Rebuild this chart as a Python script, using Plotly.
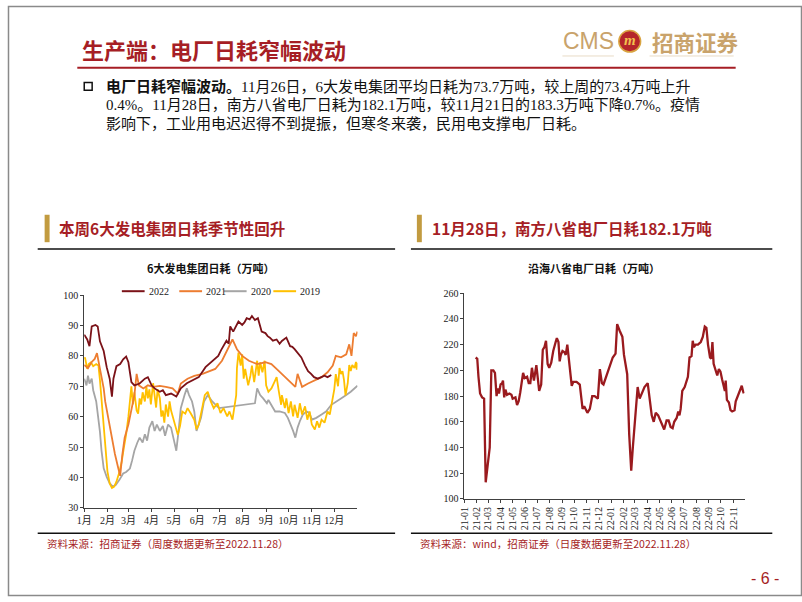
import plotly.graph_objects as go
import pandas as pd

W, H = 802, 602


def px(x):
    return x / W


def py(y):
    return 1 - y / H


# ---------------- Left chart: 6大发电集团日耗 (day of year) ----------------
month_ticks = [0, 31, 59, 90, 120, 151, 181, 212, 243, 273, 304, 334]
month_labels = ["1月", "2月", "3月", "4月", "5月", "6月", "7月", "8月", "9月", "10月", "11月", "12月"]

days22 = [0, 4, 7, 10, 15, 18, 21, 26, 30, 34,
          37, 39, 43, 48, 52, 56, 59, 63, 67, 74,
          81, 85, 90, 94, 101, 105, 109, 116, 123, 129,
          137, 145, 153, 162, 170, 179, 183, 186, 190, 193,
          195, 199, 203, 206, 211, 214, 217, 221, 224, 228,
          232, 235, 237, 242, 245, 248, 252, 257, 261, 264,
          267, 270, 275, 278, 281, 285, 290, 295, 299, 303,
          307, 312, 316, 321, 325, 330]
vals22 = [87, 85.4, 83.2, 89.7, 90.2, 89.7, 84.8, 81.6, 76.3, 72.5,
          66.6, 72.5, 76.6, 77.3, 78.9, 79.8, 77.9, 71.4, 70.3, 70.9,
          72.5, 73, 70.3, 69.3, 68.2, 68.7, 67.1, 67.6, 66.6, 69.3,
          71, 72, 73, 76.3, 78, 80, 82, 83.2, 85, 84,
          89.7, 88, 90, 91.3, 90.2, 91, 92.4, 92, 93.1, 91.8,
          92.4, 90, 88, 87.5, 86.5, 86, 85, 85.4, 84, 84.9,
          85.5, 86, 83.2, 83, 82.2, 81, 79.5, 76.8, 75, 74.1,
          73, 72.5, 73, 73.5, 73, 73.7]

days21 = [0, 5, 10, 14, 17, 21, 26, 28, 32, 37,
          41, 45, 48, 51, 54, 59, 63, 67, 70, 73,
          79, 85, 92, 101, 109, 118, 125, 129, 138, 147,
          158, 169, 175, 184, 193, 198, 204, 211, 220, 231,
          242, 250, 259, 268, 277, 282, 285, 288, 291, 299,
          308, 317, 325, 332, 336, 343, 350, 354, 357, 360,
          363, 365]
vals21 = [77, 76, 78, 79, 80.9, 75.7, 69.3, 65, 59.6, 53.1,
          47.7, 43.5, 40.5, 47.7, 53.1, 57.4, 62.8, 67.1, 74.1, 70.3,
          69.3, 70.3, 69.8, 70.1, 69.8, 69.3, 67.6, 70.9, 72.5, 73.4,
          74.1, 75.2, 75.7, 78.4, 82.7, 85.4, 82.2, 80, 78.4, 77.3,
          77.9, 77.3, 75.2, 73, 70.9, 69.8, 74.1, 71.9, 69.8, 70.9,
          71.9, 73, 74.6, 76.8, 80, 79.5, 80.5, 83.8, 80, 87.5,
          86.5, 88]

days20 = [0, 3, 5, 7, 10, 12, 16, 19, 21, 23,
          26, 30, 34, 38, 42, 47, 52, 56, 61, 64,
          67, 71, 74, 78, 81, 84, 87, 91, 94, 97,
          101, 105, 108, 112, 116, 119, 123, 126, 129, 134,
          137, 140, 144, 147, 150, 156, 160, 165, 171, 180,
          186, 228, 231, 235, 239, 244, 246, 250, 255, 261,
          268, 272, 276, 279, 282, 285, 288, 292, 297, 301,
          304, 310, 317, 323, 330, 336, 343, 350, 356, 365]
vals20 = [72.5, 70.3, 73.5, 70.9, 72.5, 68.7, 65, 60, 55, 49,
          43, 40.2, 38.1, 37, 37.5, 39.2, 41.3, 41.8, 42.9, 45.6,
          48.8, 51.5, 53.1, 51.5, 54.2, 52.1, 56.4, 58.5, 55.3, 57.4,
          55.3, 56.9, 53.7, 57.4, 56.4, 53.1, 48.8, 55.3, 62.8, 67.1,
          69.3, 67.1, 65, 61.7, 55.3, 59.6, 65, 67.1, 65, 62.8,
          63, 64.4, 69.3, 67.1, 66, 64.4, 65.5, 63.9, 61.7, 61.7,
          61.2, 59.6, 57.4, 55.3, 53.1, 56.4, 58.5, 60.7, 61.7, 61.2,
          59, 59.6, 60.7, 61.7, 63.9, 65, 66, 67.1, 68.2, 70.2]

days19 = [0, 1, 4, 6, 9, 12, 16, 19, 21, 23,
          26, 28, 31, 34, 37, 40, 43, 47, 50, 53,
          56, 59, 61, 63, 65, 67, 70, 72, 74, 76,
          78, 81, 83, 85, 87, 89, 92, 94, 96, 98,
          101, 103, 105, 107, 109, 112, 114, 116, 118, 121,
          123, 125, 128, 131, 135, 138, 142, 147, 150, 153,
          158, 161, 165, 169, 173, 178, 182, 186, 191, 194,
          198, 201, 203, 204, 206, 209, 211, 213, 215, 219,
          222, 224, 227, 231, 233, 235, 238, 241, 243, 246,
          250, 254, 257, 260, 263, 264, 268, 270, 273, 276,
          279, 281, 285, 288, 291, 295, 298, 301, 304, 308,
          311, 314, 317, 321, 325, 328, 331, 334, 336, 339,
          341, 343, 345, 347, 349, 352, 354, 356, 358, 361,
          363, 364, 365]
vals19 = [78.9, 79.5, 75.7, 77.3, 77.9, 76.6, 77.3, 76.8, 72, 66,
          58, 50, 42, 38, 36.5, 37, 38.6, 41.8, 45.1, 49.9,
          54.2, 60, 66, 70, 64, 68, 62, 61, 66, 64,
          68, 65, 70, 66, 69, 64, 71, 67, 63, 69,
          66, 60, 62, 58, 64, 60, 65, 62, 60, 57,
          55, 54, 57, 61.7, 61, 62.8, 61.2, 59, 55.8, 57.4,
          63.4, 67.1, 68.2, 65, 62.8, 64.4, 61.2, 62.8, 60.1, 61.7,
          59, 64.4, 67.1, 76, 81.1, 76.8, 80.5, 72.5, 75.7, 70.3,
          73.5, 76.8, 71.4, 78.4, 73.5, 77.9, 74.6, 78.4, 70.3, 68.2,
          69.3, 71.4, 73, 68.2, 63.9, 67.1, 62.8, 66, 61.2, 65,
          60.1, 63.9, 59.6, 64.4, 60.7, 63.4, 59, 61.7, 57.4, 55.8,
          58.5, 56.4, 59, 58, 61.7, 60.7, 65, 69, 74, 70,
          76, 74, 75, 72, 67, 71, 77, 75, 77, 76,
          78, 75.5, 77.8]

# ---------------- Right chart: 沿海八省电厂日耗 (days since 2021-01-01) ----------------
r_start = "2021-01-01"
r_days = [28, 32, 35, 39, 44, 49, 53, 57, 63, 67,
          72, 76, 80, 83, 86, 90, 94, 96, 99, 102,
          106, 112, 117, 120, 127, 131, 135, 139, 143, 146,
          150, 156, 160, 164, 168, 173, 179, 183, 186, 191,
          195, 199, 203, 207, 211, 216, 221, 227, 230, 234,
          237, 240, 244, 249, 252, 256, 258, 263, 267, 271,
          279, 287, 291, 294, 298, 302, 306, 312, 318, 324,
          332, 337, 342, 346, 353, 361, 369, 376, 380, 386,
          393, 397, 401, 405, 410, 415, 419, 425, 431, 436,
          441, 448, 456, 460, 466, 471, 476, 482, 489, 497,
          503, 508, 513, 518, 522, 528, 532, 535, 538, 542,
          548, 553, 556, 560, 565, 568, 571, 575, 581, 588,
          593, 598, 602, 606, 611, 614, 617, 620, 625, 629,
          633, 637, 641, 645, 648, 650, 653, 658, 662, 666,
          672, 675, 680, 685, 689, 690, 693, 695]
r_vals = [210, 209, 195, 182, 179, 178, 113, 125, 140, 200,
          200, 198, 180, 186, 182, 189, 190, 192, 179, 185,
          181, 182, 181, 178, 179, 173, 176, 183, 190, 198,
          194, 195, 190, 190, 202, 192, 204, 190, 184, 189,
          216, 218, 223, 205, 202, 206, 215, 222, 225, 222,
          207, 212, 215, 214, 212, 220, 214, 198, 188, 191,
          191, 189, 180, 170, 172, 170, 167, 170, 180, 180,
          178, 201, 190, 189, 195, 203, 210, 213, 236, 231,
          226, 212, 205, 197, 150, 122, 140, 167, 187, 178,
          182, 187, 190, 180, 165, 160, 167, 165, 160, 154,
          161, 161, 156, 155, 160, 163, 168, 165, 170, 184,
          187, 192, 195, 210, 211, 223, 218, 220, 220, 222,
          226, 234, 233, 220, 210, 209, 222, 205, 200, 196,
          201, 199, 193, 186, 184, 192, 177, 175, 169, 168,
          169, 176, 180, 183, 186, 188, 184, 182.1]
r_dates = pd.Timestamp(r_start) + pd.to_timedelta(r_days, unit="D")

# ---------------- styles ----------------
RED = "#A61E25"
GOLD = "#C29B40"
TAN = "#C9A36B"
SERIF = "'Liberation Serif', 'Noto Sans CJK SC', serif"
CJK = "'Noto Sans CJK SC', sans-serif"
AXC = "#404040"

series_names = ["2022", "2021", "2020", "2019"]
series_colors = {"2022": "#7B1218", "2021": "#ED7D31", "2020": "#A5A5A5", "2019": "#FFC000"}
series_data = {"2022": (days22, vals22), "2021": (days21, vals21),
               "2020": (days20, vals20), "2019": (days19, vals19)}
draw_order = ["2020", "2019", "2021", "2022"]

fig = go.Figure()
for name in draw_order:
    d, v = series_data[name]
    fig.add_trace(go.Scatter(x=d, y=v, name=name, mode="lines",
                             line=dict(color=series_colors[name], width=1.8),
                             showlegend=False, xaxis="x", yaxis="y",
                             hoverinfo="skip"))

fig.add_trace(go.Scatter(x=r_dates, y=r_vals, mode="lines", showlegend=False,
                         line=dict(color="#9A1A1E", width=2.3),
                         xaxis="x2", yaxis="y2", hoverinfo="skip"))

axis_common = dict(showline=True, linecolor=AXC, linewidth=1, ticks="outside",
                   ticklen=3, tickcolor=AXC, showgrid=False, zeroline=False,
                   tickfont=dict(family=SERIF, size=10, color="#222"))

fig.update_layout(
    width=W, height=H,
    margin=dict(l=0, r=0, t=0, b=0),
    paper_bgcolor="white", plot_bgcolor="white",
    xaxis=dict(domain=[px(77), px(353)], range=[0, 365], tickvals=month_ticks,
               ticktext=month_labels, anchor="y", **axis_common),
    yaxis=dict(domain=[py(512), py(295)], range=[30, 100], dtick=10,
               anchor="x", **axis_common),
    xaxis2=dict(domain=[px(461), px(744)], type="date",
                range=["2021-01-01", "2022-11-29"], dtick="M1",
                tick0="2021-01-01", tickformat="%y-%m", tickangle=-90,
                anchor="y2", **axis_common),
    yaxis2=dict(domain=[py(503), py(293)], range=[100, 260], dtick=20,
                anchor="x2", **axis_common),
    showlegend=False,
)

shapes = []
annotations = []


def text(x, y, s, size, color="#111", family=CJK, anchor="left", bold=False):
    if bold:
        s = "<b>" + s + "</b>"
    annotations.append(dict(x=px(x), y=py(y), xref="paper", yref="paper",
                            text=s, showarrow=False, xanchor=anchor,
                            yanchor="middle",
                            font=dict(family=family, size=size, color=color)))


def hline(x0, x1, y, color, width):
    shapes.append(dict(type="line", xref="paper", yref="paper",
                       x0=px(x0), x1=px(x1), y0=py(y), y1=py(y),
                       line=dict(color=color, width=width)))


def rect(x0, y0, x1, y1, fill=None, color=None, width=0):
    shapes.append(dict(type="rect", xref="paper", yref="paper",
                       x0=px(x0), x1=px(x1), y0=py(y1), y1=py(y0),
                       fillcolor=fill if fill else "rgba(0,0,0,0)",
                       line=dict(color=color if color else "rgba(0,0,0,0)",
                                 width=width)))


# legend (drawn as a key above the left plot)
legend_x = [115, 173, 218, 268]
for name, lx in zip(series_names, legend_x):
    hline(lx, lx + 23, 291, series_colors[name], 2)
    text(lx + 25, 291, name, 10, "#222", SERIF)

# page border
rect(0.5, 0.5, 801.5, 601.5, color="#8A8A8A", width=1.5)

# header
text(73, 44, "生产端：电厂日耗窄幅波动", 22, RED, CJK, bold=True)
hline(70, 735, 63, RED, 2)
text(559, 36, "CMS", 23, TAN, "'Liberation Sans', Arial, sans-serif")
shapes.append(dict(type="circle", xref="paper", yref="paper",
                   x0=px(617), x1=px(639), y0=py(47), y1=py(25),
                   fillcolor="#B5262B", line=dict(color="#D9A441", width=1.5)))
text(628, 35, "<i>m</i>", 15, "#F2C14E", "'Liberation Serif', serif", anchor="center", bold=True)
text(648, 36, "招商证券", 21.5, TAN, CJK, bold=True)
hline(560, 612, 51, "#E8DCC6", 1)
hline(648, 733, 51, "#E8DCC6", 1)

# bullet text
rect(77, 78, 85, 86, color="#111", width=1.5)
TXT = "'Liberation Serif', 'Noto Sans CJK SC', serif"
text(97, 82, "<b>电厂日耗窄幅波动。</b>11月26日，6大发电集团平均日耗为73.7万吨，较上周的73.4万吨上升",
     15, "#111", TXT)
text(97, 101, "0.4%。11月28日，南方八省电厂日耗为182.1万吨，较11月21日的183.3万吨下降0.7%。疫情",
     15, "#111", TXT)
text(97, 120, "影响下，工业用电迟迟得不到提振，但寒冬来袭，民用电支撑电厂日耗。", 15, "#111", TXT)

# section headers
rect(37, 213, 42, 241, fill=GOLD)
text(49, 227, "本周6大发电集团日耗季节性回升", 15.5, RED, CJK, bold=True)
rect(413, 213, 418, 241, fill=GOLD)
text(426, 227, "11月28日，南方八省电厂日耗182.1万吨", 15.5, RED, CJK, bold=True)
hline(30, 391, 248, "#111", 1.5)
hline(407, 772, 248, "#111", 1.5)

# chart titles
text(205, 267, "6大发电集团日耗（万吨）", 11, "#111", CJK, anchor="center", bold=True)
text(592, 267, "沿海八省电厂日耗（万吨）", 11, "#111", CJK, anchor="center", bold=True)

# bottom rules and sources
hline(30, 391, 538, "#111", 1.5)
hline(407, 772, 538, "#111", 1.5)
text(37, 548, "资料来源：招商证券（周度数据更新至2022.11.28）", 10.5, RED, CJK)
text(414, 548, "资料来源：wind，招商证券（日度数据更新至2022.11.28）", 10.5, RED, CJK)

# page number
text(765, 584, "- 6 -", 16, RED, "'Liberation Sans', Arial, sans-serif", anchor="center")

fig.update_layout(shapes=shapes, annotations=annotations)
fig.write_html("out.html", config={"displayModeBar": False},
               post_script="document.body.style.margin='0px';")
